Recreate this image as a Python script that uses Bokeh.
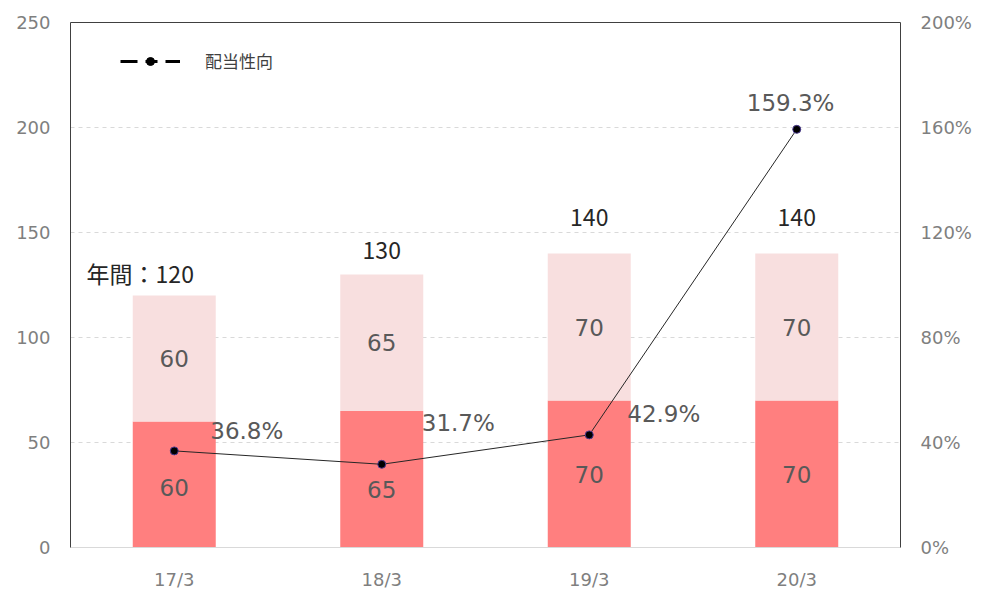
from bokeh.plotting import figure
from bokeh.models import (ColumnDataSource, Range1d, LinearAxis, FactorRange,
                          NumeralTickFormatter, FixedTicker, Legend, LegendItem)
from bokeh.core.properties import value
from bokeh.embed import file_html
from bokeh.resources import INLINE

# ---- data ----
periods = ["17/3", "18/3", "19/3", "20/3"]
first_half = [60, 65, 70, 70]
second_half = [60, 65, 70, 70]
totals = [120, 130, 140, 140]
payout_ratio = [36.8, 31.7, 42.9, 159.3]   # %
series_name = "配当性向"
total_prefix = "年間："
left_ticks = [0, 50, 100, 150, 200, 250]
right_ticks = [0, 0.4, 0.8, 1.2, 1.6, 2.0]

NUM_FONT = "DejaVu Sans"
JP_FONT = "Noto Sans CJK JP"

p = figure(x_range=FactorRange(*periods, range_padding=0),
           y_range=Range1d(0, 250),
           width=984, height=592,
           output_backend="svg", toolbar_location=None,
           min_border_left=70, min_border_right=84,
           min_border_top=22, min_border_bottom=45)
p.extra_y_ranges = {"pct": Range1d(0, 2.0)}

p.background_fill_color = "white"
p.border_fill_color = "white"
p.outline_line_color = None

# stacked bars
src = ColumnDataSource(dict(x=periods,
                            top1=first_half,
                            bottom2=first_half,
                            top2=[a + b for a, b in zip(first_half, second_half)]))
p.vbar(x="x", top="top1", bottom=0, width=0.4, source=src,
       fill_color="#FF7F7F", line_color=None)
p.vbar(x="x", top="top2", bottom="bottom2", width=0.4, source=src,
       fill_color="#F8DFDF", line_color=None)

# segment labels
seg_lo_off = [3, 10, 0, 0]
lo_src = ColumnDataSource(dict(x=periods, y=[v / 2 for v in first_half],
                               t=[str(v) for v in first_half], yo=seg_lo_off))
p.text(x="x", y="y", text="t", y_offset="yo", source=lo_src,
       text_align="center", text_baseline="middle",
       text_font=value(NUM_FONT), text_font_size="23px", text_color="#595959")
hi_src = ColumnDataSource(dict(x=periods,
                               y=[a + b / 2 for a, b in zip(first_half, second_half)],
                               t=[str(v) for v in second_half]))
p.text(x="x", y="y", text="t", source=hi_src,
       text_align="center", text_baseline="middle",
       text_font=value(NUM_FONT), text_font_size="23px", text_color="#595959")

# total labels
tot_text = [total_prefix + str(totals[0])] + [str(v) for v in totals[1:]]
tot_src = ColumnDataSource(dict(x=periods, y=totals, t=tot_text,
                                xo=[-34, 0, 0, 0], yo=[-23, -24, -36, -36]))
p.text(x="x", y="y", text="t", x_offset="xo", y_offset="yo", source=tot_src,
       text_align="center", text_baseline="middle",
       text_font=value(JP_FONT), text_font_size="23px", text_color="#262626")

# payout ratio line
pr = [v / 100 for v in payout_ratio]
line_src = ColumnDataSource(dict(x=periods, y=pr,
                                 t=["%.1f%%" % v for v in payout_ratio],
                                 xo=[36, 40, 38, -50], yo=[-20, -41, -21, -26]))
p.line(x="x", y="y", source=line_src, y_range_name="pct",
       line_color="#262626", line_width=1)
p.scatter(x="x", y="y", source=line_src, y_range_name="pct",
          size=8, fill_color="black", line_color="#4B3B8F", line_width=1)
p.text(x="x", y="y", text="t", x_offset="xo", y_offset="yo", source=line_src,
       y_range_name="pct", text_align="left", text_baseline="middle",
       text_font=value(NUM_FONT), text_font_size="23px", text_color="#595959")

# legend (dummy renderers for legend styling only)
lg_line = p.line(x=[periods[0]], y=[float("nan")], line_color="black",
                 line_width=3, line_dash="17 8 12 8 17")
lg_dot = p.scatter(x=[periods[0]], y=[float("nan")], size=10,
                   fill_color="black", line_color="black")
legend = Legend(items=[LegendItem(label=series_name, renderers=[lg_line, lg_dot])],
                location=(50, 474), orientation="horizontal",
                border_line_color=None, background_fill_alpha=0,
                margin=0, padding=0, glyph_width=60, glyph_height=20,
                label_standoff=25, label_text_font=JP_FONT,
                label_text_font_size="17px", label_text_color="#404040",
                label_height=20)
p.add_layout(legend)

# axes
bottom_axis = p.below[0]
left_axis = p.left[0]

left_axis.ticker = FixedTicker(ticks=left_ticks)
left_axis.axis_line_color = "#404040"
left_axis.major_tick_line_color = None
left_axis.minor_tick_line_color = None
left_axis.major_tick_out = 0
left_axis.minor_tick_out = 0
left_axis.major_label_text_font = NUM_FONT
left_axis.major_label_text_font_size = "18px"
left_axis.major_label_text_color = "#7F7F7F"
left_axis.major_label_standoff = 20

raxis = LinearAxis(y_range_name="pct", ticker=FixedTicker(ticks=right_ticks),
                   formatter=NumeralTickFormatter(format="0%"))
raxis.axis_line_color = "#404040"
raxis.major_tick_line_color = None
raxis.minor_tick_line_color = None
raxis.major_tick_out = 0
raxis.minor_tick_out = 0
raxis.major_label_text_font = NUM_FONT
raxis.major_label_text_font_size = "18px"
raxis.major_label_text_color = "#7F7F7F"
raxis.major_label_standoff = 20
p.add_layout(raxis, "right")

bottom_axis.axis_line_color = "#D9D9D9"
bottom_axis.major_tick_line_color = None
bottom_axis.minor_tick_line_color = None
bottom_axis.major_tick_out = 0
bottom_axis.minor_tick_out = 0
bottom_axis.major_label_text_font = NUM_FONT
bottom_axis.major_label_text_font_size = "18px"
bottom_axis.major_label_text_color = "#7F7F7F"
bottom_axis.major_label_standoff = 21

taxis = LinearAxis(ticker=FixedTicker(ticks=[]))
taxis.axis_line_color = "#404040"
taxis.major_tick_line_color = None
taxis.minor_tick_line_color = None
taxis.major_tick_out = 0
taxis.minor_tick_out = 0
taxis.major_label_text_font_size = "0px"
p.add_layout(taxis, "above")

p.xgrid.grid_line_color = None
p.ygrid.ticker = FixedTicker(ticks=left_ticks[1:-1])
p.ygrid.grid_line_color = "#D9D9D9"
p.ygrid.grid_line_dash = "4 4"

open("out.html", "w").write(file_html(p, INLINE))
